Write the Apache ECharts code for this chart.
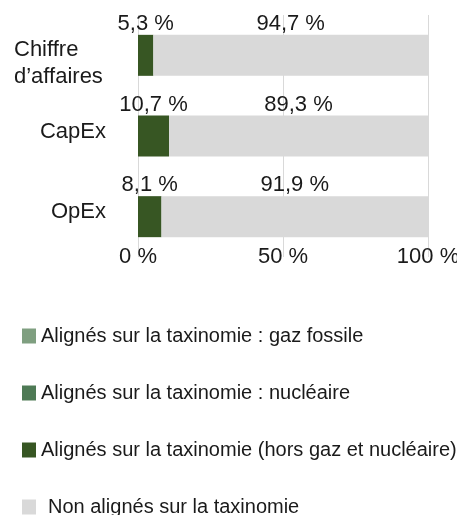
<!DOCTYPE html>
<html>
<head>
<meta charset="utf-8">
<script src="https://cdn.jsdelivr.net/npm/echarts@6/dist/echarts.min.js"></script>
<style>
  html, body { margin: 0; padding: 0; background: #fff; }
  #chart { width: 457px; height: 515px; }
</style>
</head>
<body>
<div id="chart"></div>
<script>
// données
var categories = ['Chiffre\nd\u2019affaires', 'CapEx', 'OpEx']
var seriesNames = [
  'Alignés sur la taxinomie : gaz fossile',
  'Alignés sur la taxinomie : nucléaire',
  'Alignés sur la taxinomie (hors gaz et nucléaire)',
  'Non alignés sur la taxinomie'
]
var gazFossile = [0, 0, 0]
var nucleaire = [0, 0, 0]
var horsGazNucleaire = [5.3, 10.7, 8.1]
var nonAlignes = [94.7, 89.3, 91.9]
var xTicks = [0, 50, 100]

var colors = ['#7f9f80', '#4e7a55', '#375623', '#d9d9d9']
var font = 'Liberation Sans, Arial, sans-serif'
var textColor = '#1a1a1a'

function pct(v) {
  return v.toFixed(1).replace('.', ',') + ' %'
}

var chart = echarts.init(document.getElementById('chart'))

function makeSeries(name, data, color) {
  return {
    name: name,
    type: 'bar',
    stack: 'total',
    barWidth: 41,
    data: data,
    itemStyle: { color: color },
    label: {
      show: true,
      position: 'top',
      distance: 0,
      fontFamily: font,
      fontSize: 22,
      color: textColor,
      formatter: function (p) {
        return p.value > 0 ? pct(p.value) : ''
      }
    },
    animation: false
  }
}

chart.setOption({
  color: colors,
  grid: {
    left: 138,
    right: 29,
    top: 15,
    bottom: 258,
    outerBoundsMode: 'none'
  },
  xAxis: {
    type: 'value',
    min: xTicks[0],
    max: xTicks[xTicks.length - 1],
    interval: 50,
    axisLine: { show: false },
    axisTick: { show: false },
    splitLine: { lineStyle: { color: '#d9d9d9', width: 1 } },
    axisLabel: {
      margin: -11,
      fontFamily: font,
      fontSize: 22,
      color: textColor,
      formatter: function (v) { return v + ' %' }
    }
  },
  yAxis: {
    type: 'category',
    inverse: true,
    data: categories,
    axisLine: { show: false },
    axisTick: { show: false },
    axisLabel: {
      margin: 32,
      fontFamily: font,
      fontSize: 22,
      color: textColor,
      formatter: function (v) {
        if (v.indexOf('\n') > -1) {
          return '{l|' + v.split('\n').join('}\n{l|') + '}'
        }
        return '{s|' + v + '}'
      },
      rich: {
        l: {
          width: 92,
          align: 'left',
          fontFamily: font,
          fontSize: 22,
          lineHeight: 27,
          padding: [17, 0, 0, 0],
          color: textColor
        },
        s: {
          fontFamily: font,
          fontSize: 22,
          padding: [0, 0, 9, 0],
          color: textColor
        }
      }
    }
  },
  legend: {
    orient: 'vertical',
    left: 22,
    top: 326,
    height: 260,
    padding: 0,
    itemWidth: 14,
    itemHeight: 15,
    itemGap: 37,
    icon: 'rect',
    selectedMode: false,
    data: [
      seriesNames[0],
      seriesNames[1],
      seriesNames[2],
      { name: seriesNames[3], textStyle: { padding: [0, 0, 0, 7] } }
    ],
    textStyle: {
      fontFamily: font,
      fontSize: 20,
      color: textColor
    }
  },
  series: [
    makeSeries(seriesNames[0], gazFossile, colors[0]),
    makeSeries(seriesNames[1], nucleaire, colors[1]),
    makeSeries(seriesNames[2], horsGazNucleaire, colors[2]),
    makeSeries(seriesNames[3], nonAlignes, colors[3])
  ]
})
</script>
</body>
</html>
